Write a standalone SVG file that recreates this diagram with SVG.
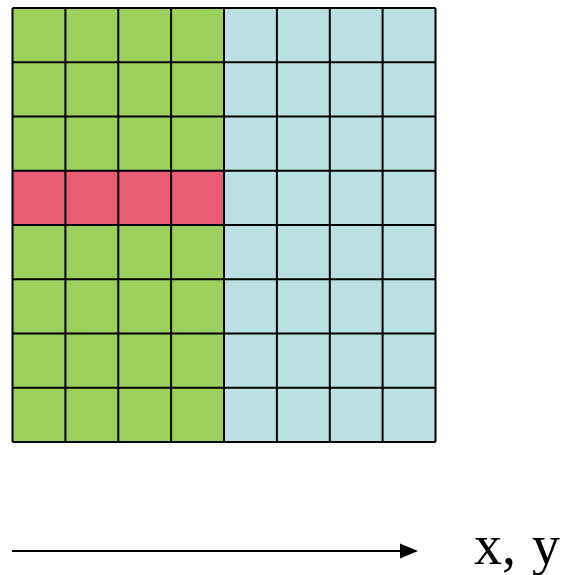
<svg xmlns="http://www.w3.org/2000/svg" width="561" height="575" viewBox="0 0 561 575">
  <defs>
    <style>
      .green { fill: #9bd05e; }
      .blue { fill: #bbe0e3; }
      .red { fill: #e85d74; }
      .grid { fill: none; stroke: #000; stroke-width: 2; }
      .axis { stroke: #000; stroke-width: 2; fill: none; }
      .label { font-family: "Liberation Serif", "Times New Roman", serif; font-size: 56px; fill: #000; word-spacing: 2px; }
    </style>
  </defs>
  <rect width="561" height="575" fill="#fff"/>
  <g id="grid-fill">
    <rect class="green" x="12.5" y="8" width="211.5" height="434"/>
    <rect class="blue" x="224" y="8" width="211.5" height="434"/>
    <rect class="red" x="12.5" y="170.75" width="211.5" height="54.25"/>
  </g>
  <g id="grid-lines">
    <path class="grid" d="M12.5,8 V442 M65.4,8 V442 M118.3,8 V442 M171.1,8 V442 M224,8 V442 M276.9,8 V442 M329.8,8 V442 M382.6,8 V442 M435.5,8 V442
      M12.5,8 H435.5 M12.5,62.25 H435.5 M12.5,116.5 H435.5 M12.5,170.75 H435.5 M12.5,225 H435.5 M12.5,279.25 H435.5 M12.5,333.5 H435.5 M12.5,387.75 H435.5 M12.5,442 H435.5"/>
  </g>
  <g id="connectors">
    <line class="axis" x1="12" y1="551" x2="400" y2="551"/>
    <path d="M400,543.5 L418,551 L400,558.5 Z" fill="#000"/>
  </g>
  <g id="axis-label">
    <text class="label" x="474" y="564">x, y</text>
  </g>
</svg>
